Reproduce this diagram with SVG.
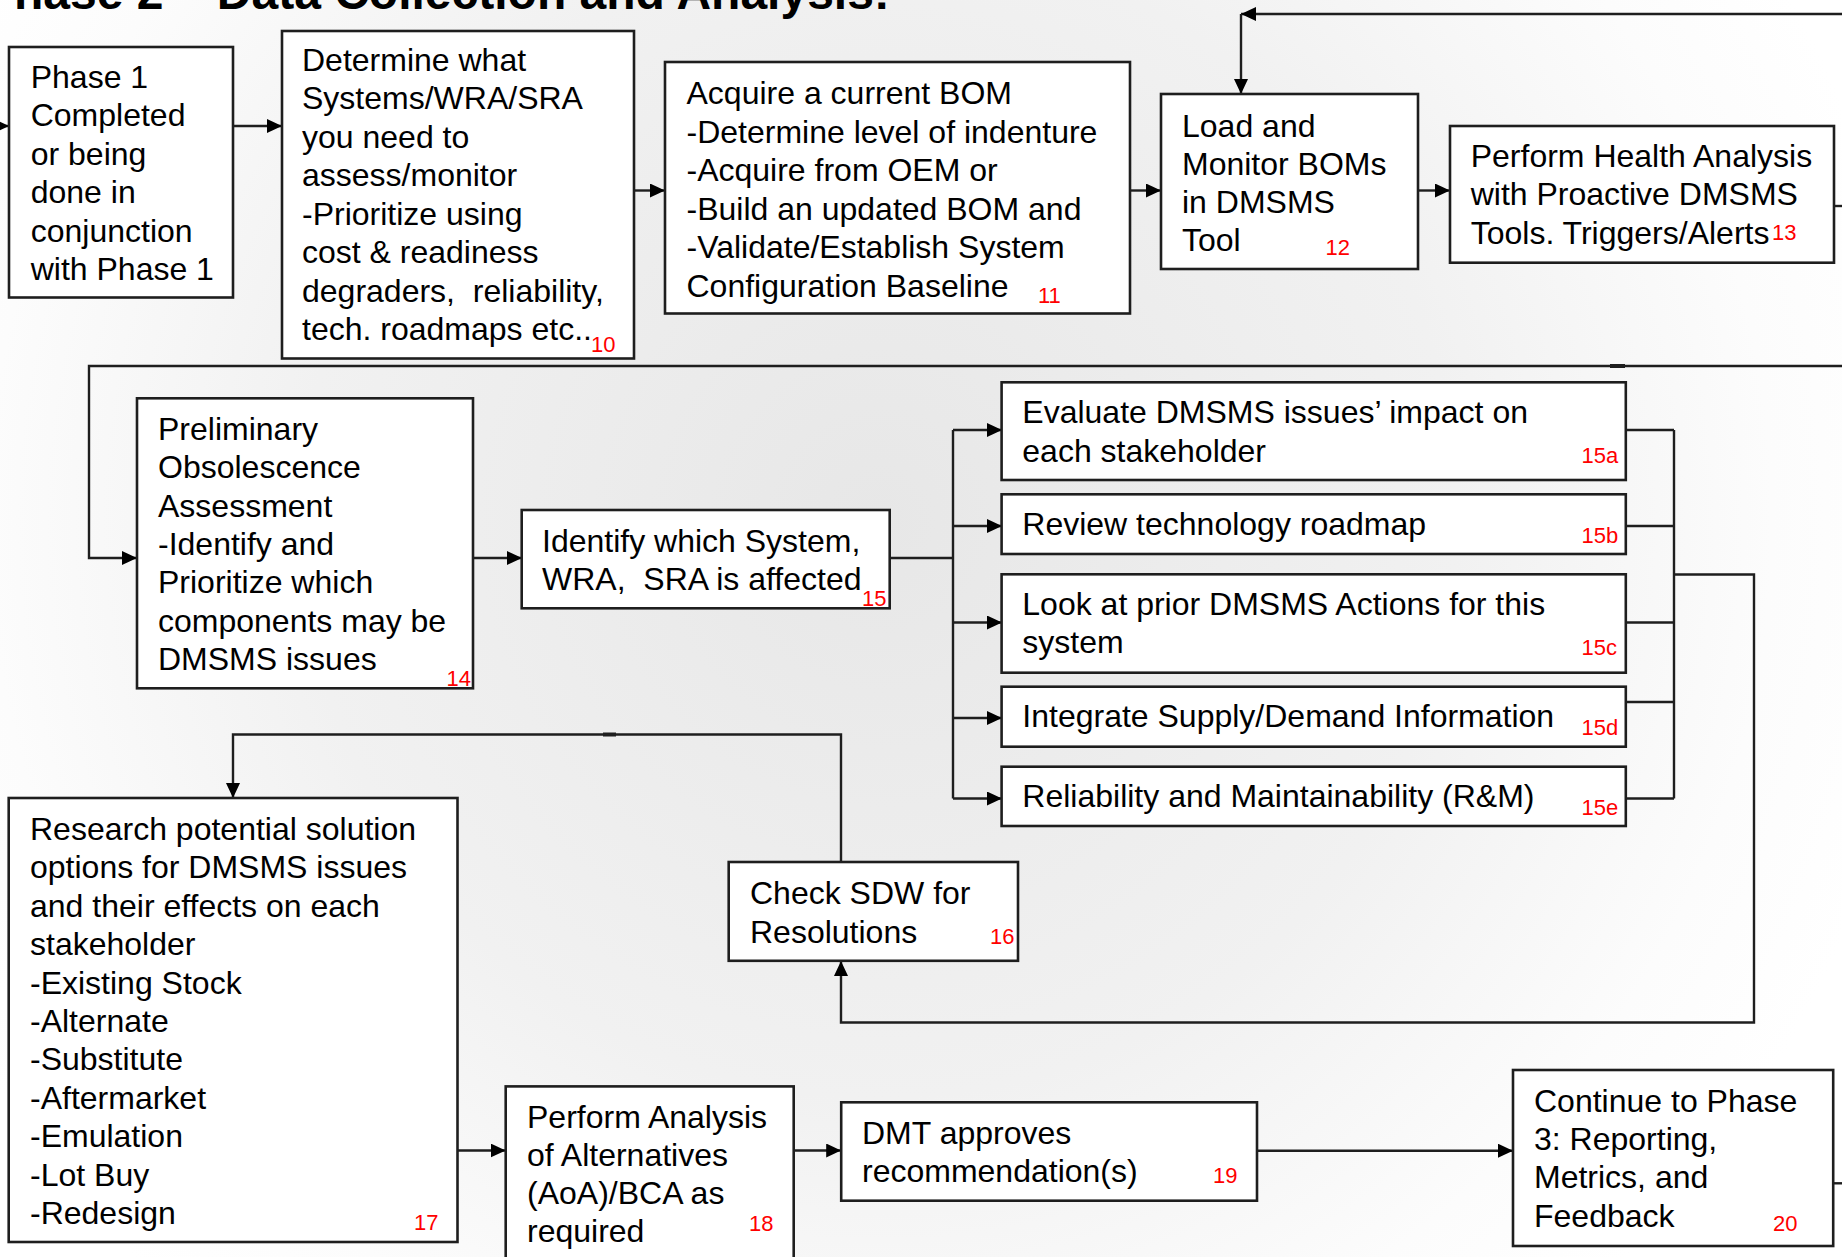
<svg xmlns="http://www.w3.org/2000/svg" width="1842" height="1257" viewBox="0 0 1842 1257">
<style>
.box{fill:#fff;stroke:#1e1e1e;stroke-width:2.6}
.t{font-family:"Liberation Sans",Arial,sans-serif;font-size:32px;fill:#000;white-space:pre}
.n{font-family:"Liberation Sans",Arial,sans-serif;font-size:22px;fill:#ff0000}
.title{font-family:"Liberation Sans",Arial,sans-serif;font-size:48px;font-weight:bold;fill:#000}
.c{fill:none;stroke:#1e1e1e;stroke-width:2.4}
.a{marker-end:url(#ah)}
</style>
<defs>
<marker id="ah" markerWidth="15" markerHeight="14" refX="15" refY="7" orient="auto" markerUnits="userSpaceOnUse">
<path d="M0,0 L15,7 L0,14 z" fill="#000"/>
</marker>
<radialGradient id="bg" cx="880" cy="520" r="1050" gradientUnits="userSpaceOnUse">
<stop offset="0" stop-color="#e7e7e7"/>
<stop offset="0.55" stop-color="#f1f1f1"/>
<stop offset="0.85" stop-color="#fcfcfc"/>
<stop offset="1" stop-color="#ffffff"/>
</radialGradient>
</defs>
<rect x="0" y="0" width="1842" height="1257" fill="url(#bg)"/>
<text class="title" x="-18" y="9">Phase 2 – Data Collection and Analysis:</text>

<g id="connectors">
<path class="c a" d="M-10,126 H9"/>
<path class="c a" d="M233,126 H282"/>
<path class="c a" d="M634,190.5 H665"/>
<path class="c a" d="M1130,190.5 H1161"/>
<path class="c a" d="M1418,190.5 H1450"/>
<path class="c" d="M1834,206 H1842"/>
<path class="c a" d="M1842,14 H1241"/>
<path class="c a" d="M1241,14 V94"/>
<path class="c a" d="M1842,366 H89 V558 H137"/>
<path class="c" d="M1610,366 H1625" style="stroke-width:4"/>
<path class="c a" d="M473,558 H522"/>
<path class="c" d="M890,558 H953"/>
<path class="c" d="M953,430 V798.5"/>
<path class="c a" d="M953,430 H1002"/>
<path class="c a" d="M953,526 H1002"/>
<path class="c a" d="M953,622.5 H1002"/>
<path class="c a" d="M953,718 H1002"/>
<path class="c a" d="M953,798.5 H1002"/>
<path class="c" d="M1626,430 H1674"/>
<path class="c" d="M1626,526 H1674"/>
<path class="c" d="M1626,622.5 H1674"/>
<path class="c" d="M1626,702 H1674"/>
<path class="c" d="M1626,798.5 H1674"/>
<path class="c" d="M1674,430 V798.5"/>
<path class="c a" d="M1674,574.5 H1754 V1022.5 H841 V961"/>
<path class="c a" d="M841,862 V734.5 H233 V798"/>
<path class="c" d="M603,734.5 H616" style="stroke-width:4"/>
<path class="c a" d="M457.5,1150.5 H505.7"/>
<path class="c a" d="M793.7,1150.5 H841.2"/>
<path class="c a" d="M1257,1150.7 H1513"/>
<path class="c" d="M1833,1183.3 H1842"/>
</g>

<g id="n9">
<rect class="box" x="9" y="47" width="224" height="250.5"/>
<text class="t" x="30.7" y="87.5">Phase 1</text>
<text class="t" x="30.7" y="126">Completed</text>
<text class="t" x="30.7" y="164.5">or being</text>
<text class="t" x="30.7" y="203">done in</text>
<text class="t" x="30.7" y="241.5">conjunction</text>
<text class="t" x="30.7" y="280">with Phase 1</text>
</g>

<g id="n10">
<rect class="box" x="282" y="31" width="352" height="327.5"/>
<text class="t" x="302" y="70.5">Determine what</text>
<text class="t" x="302" y="109">Systems/WRA/SRA</text>
<text class="t" x="302" y="147.5">you need to</text>
<text class="t" x="302" y="186">assess/monitor</text>
<text class="t" x="302" y="224.5">-Prioritize using</text>
<text class="t" x="302" y="263">cost &amp; readiness</text>
<text class="t" x="302" y="301.5" xml:space="preserve">degraders,  reliability,</text>
<text class="t" x="302" y="340">tech. roadmaps etc..</text>
<text class="n" x="591" y="352">10</text>
</g>

<g id="n11">
<rect class="box" x="665" y="62" width="465" height="251.5"/>
<text class="t" x="686.5" y="104">Acquire a current BOM</text>
<text class="t" x="686.5" y="142.5">-Determine level of indenture</text>
<text class="t" x="686.5" y="181">-Acquire from OEM or</text>
<text class="t" x="686.5" y="219.5">-Build an updated BOM and</text>
<text class="t" x="686.5" y="258">-Validate/Establish System</text>
<text class="t" x="686.5" y="296.5">Configuration Baseline</text>
<text class="n" x="1038" y="303">11</text>
</g>

<g id="n12">
<rect class="box" x="1161" y="94" width="257" height="175"/>
<text class="t" x="1182" y="136.5">Load and</text>
<text class="t" x="1182" y="174.5">Monitor BOMs</text>
<text class="t" x="1182" y="212.5">in DMSMS</text>
<text class="t" x="1182" y="250.5">Tool</text>
<text class="n" x="1325.5" y="255">12</text>
</g>

<g id="n13">
<rect class="box" x="1450" y="126" width="384" height="136.7"/>
<text class="t" x="1470.7" y="166.5">Perform Health Analysis</text>
<text class="t" x="1470.7" y="205">with Proactive DMSMS</text>
<text class="t" x="1470.7" y="243.5">Tools. Triggers/Alerts</text>
<text class="n" x="1772" y="240">13</text>
</g>

<g id="n14">
<rect class="box" x="137" y="398.3" width="336" height="290"/>
<text class="t" x="158" y="440">Preliminary</text>
<text class="t" x="158" y="478.3">Obsolescence</text>
<text class="t" x="158" y="516.7">Assessment</text>
<text class="t" x="158" y="555">-Identify and</text>
<text class="t" x="158" y="593.3">Prioritize which</text>
<text class="t" x="158" y="631.7">components may be</text>
<text class="t" x="158" y="670">DMSMS issues</text>
<text class="n" x="446.4" y="686">14</text>
</g>

<g id="n15">
<rect class="box" x="521.7" y="510" width="368" height="98.3"/>
<text class="t" x="542" y="551.7">Identify which System,</text>
<text class="t" x="542" y="590" xml:space="preserve">WRA,  SRA is affected</text>
<text class="n" x="862" y="606">15</text>
</g>

<g id="n15a">
<rect class="box" x="1001.6" y="382.3" width="624.2" height="97.7"/>
<text class="t" x="1022.3" y="423.3">Evaluate DMSMS issues’ impact on</text>
<text class="t" x="1022.3" y="461.7">each stakeholder</text>
<text class="n" x="1581.5" y="463">15a</text>
</g>

<g id="n15b">
<rect class="box" x="1001.6" y="494.3" width="624.2" height="59.7"/>
<text class="t" x="1022.3" y="535">Review technology roadmap</text>
<text class="n" x="1581.5" y="543">15b</text>
</g>

<g id="n15c">
<rect class="box" x="1001.6" y="574.3" width="624.2" height="98.4"/>
<text class="t" x="1022.3" y="615">Look at prior DMSMS Actions for this</text>
<text class="t" x="1022.3" y="653.3">system</text>
<text class="n" x="1581.5" y="655">15c</text>
</g>

<g id="n15d">
<rect class="box" x="1001.6" y="686.7" width="624.2" height="60"/>
<text class="t" x="1022.3" y="726.7">Integrate Supply/Demand Information</text>
<text class="n" x="1581.5" y="735">15d</text>
</g>

<g id="n15e">
<rect class="box" x="1001.6" y="766.7" width="624.2" height="59.3"/>
<text class="t" x="1022.3" y="806.7">Reliability and Maintainability (R&amp;M)</text>
<text class="n" x="1581.5" y="815">15e</text>
</g>

<g id="n16">
<rect class="box" x="728.7" y="862" width="289.3" height="98.8"/>
<text class="t" x="750" y="904">Check SDW for</text>
<text class="t" x="750" y="942.6">Resolutions</text>
<text class="n" x="990" y="944">16</text>
</g>

<g id="n17">
<rect class="box" x="8.7" y="798" width="448.8" height="444"/>
<text class="t" x="30" y="840">Research potential solution</text>
<text class="t" x="30" y="878.4">options for DMSMS issues</text>
<text class="t" x="30" y="916.8">and their effects on each</text>
<text class="t" x="30" y="955.2">stakeholder</text>
<text class="t" x="30" y="993.6">-Existing Stock</text>
<text class="t" x="30" y="1032">-Alternate</text>
<text class="t" x="30" y="1070.4">-Substitute</text>
<text class="t" x="30" y="1108.8">-Aftermarket</text>
<text class="t" x="30" y="1147.2">-Emulation</text>
<text class="t" x="30" y="1185.6">-Lot Buy</text>
<text class="t" x="30" y="1224">-Redesign</text>
<text class="n" x="414" y="1230">17</text>
</g>

<g id="n18">
<rect class="box" x="505.7" y="1086.4" width="288" height="190"/>
<text class="t" x="527" y="1127.5">Perform Analysis</text>
<text class="t" x="527" y="1166">of Alternatives</text>
<text class="t" x="527" y="1204">(AoA)/BCA as</text>
<text class="t" x="527" y="1242">required</text>
<text class="n" x="749" y="1231">18</text>
</g>

<g id="n19">
<rect class="box" x="841.2" y="1102.3" width="415.8" height="98.4"/>
<text class="t" x="862" y="1144">DMT approves</text>
<text class="t" x="862" y="1182">recommendation(s)</text>
<text class="n" x="1213" y="1183">19</text>
</g>

<g id="n20">
<rect class="box" x="1513" y="1070" width="320.2" height="176"/>
<text class="t" x="1534" y="1111.7">Continue to Phase</text>
<text class="t" x="1534" y="1150">3: Reporting,</text>
<text class="t" x="1534" y="1188.3">Metrics, and</text>
<text class="t" x="1534" y="1226.7">Feedback</text>
<text class="n" x="1773" y="1231">20</text>
</g>
</svg>
